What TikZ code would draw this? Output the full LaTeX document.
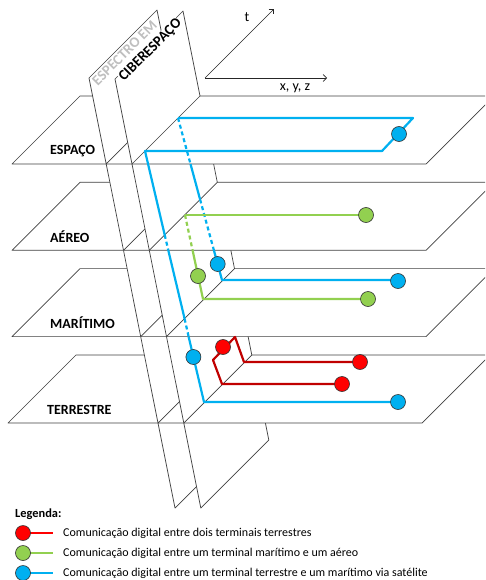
\documentclass[tikz,border=0pt]{standalone}
\usepackage{fontspec}
\setmainfont{Carlito}
\usetikzlibrary{arrows.meta}
\definecolor{cyb}{HTML}{00B0F0}
\definecolor{grn}{HTML}{92D050}
\definecolor{redl}{HTML}{C00000}
\definecolor{redf}{HTML}{FF0000}
\definecolor{edge}{HTML}{404040}
\definecolor{specgray}{HTML}{BFBFBF}

\begin{document}
\begin{tikzpicture}[x=1pt,y=-1pt,
  sheet/.style={draw=edge, line width=0.7pt, fill=white, line join=round},
  link/.style={line width=2.2pt, line join=round},
  hidden/.style={dash pattern=on 4pt off 3pt},
  term/.style={circle, draw=black!80, line width=0.6pt, minimum size=15pt, inner sep=0pt},
  lvl/.style={font=\bfseries\fontsize{14}{14}\selectfont, anchor=west, inner sep=0pt},
  legtext/.style={font=\fontsize{12}{14}\selectfont, anchor=west, inner sep=0pt},
  sheettitle/.style={font=\bfseries\fontsize{14.6}{15}\selectfont, rotate=45, fill=white, inner sep=0.3pt},
  axis/.style={draw=black!85, line width=0.7pt, -{Straight Barb[length=3.5pt,width=7pt]}}
]
\useasboundingbox (0,0) rectangle (485,580);

\begin{scope}
\clip (0,0) rectangle (485,580);
% lowest slab: vertical sheets below TERRESTRE
\draw[sheet] (158,423) -- (226,355) -- (243,440) -- (175,508) -- cycle;
\draw[sheet] (183.8,423) -- (251.8,355) -- (268.8,440) -- (200.8,508) -- cycle;
% TERRESTRE
\draw[sheet] (8,423) -- (422,423) -- (490,355) -- (76,355) -- cycle;
\draw[sheet] (140.7,336.6) -- (208.7,268.6) -- (226,355) -- (158,423) -- cycle;
\draw[sheet] (166.5,336.6) -- (234.5,268.6) -- (251.8,355) -- (183.8,423) -- cycle;
% MARITIMO
\draw[sheet] (12,336.6) -- (426,336.6) -- (494,268.6) -- (80,268.6) -- cycle;
\draw[sheet] (123.5,250.3) -- (191.5,182.3) -- (208.7,268.6) -- (140.7,336.6) -- cycle;
\draw[sheet] (149.3,250.3) -- (217.3,182.3) -- (234.5,268.6) -- (166.5,336.6) -- cycle;
% AEREO
\draw[sheet] (12,250.3) -- (426,250.3) -- (494,182.3) -- (80,182.3) -- cycle;
\draw[sheet] (106.2,164) -- (174.2,96) -- (191.5,182.3) -- (123.5,250.3) -- cycle;
\draw[sheet] (132,164) -- (200,96) -- (217.3,182.3) -- (149.3,250.3) -- cycle;
% ESPACO
\draw[sheet] (12,164) -- (426,164) -- (494,96) -- (80,96) -- cycle;
% upper parts of the spectrum and cyberspace sheets
\draw[sheet] (89,78) -- (157,10) -- (174.2,96) -- (106.2,164) -- cycle;
\node[sheettitle, text=specgray] (spec) at (124.5,53) {ESPECTRO EM};
\draw[sheet] (115,79) -- (183,11) -- (200,96) -- (132,164) -- cycle;
\node[sheettitle] (cyber) at (150.5,50.5) {CIBERESPAÇO};
\end{scope}

% level labels
\node[lvl] (lesp) at (50,151) {ESPAÇO};
\node[lvl] (laer) at (50,237) {AÉREO};
\node[lvl] (lmar) at (50,323) {MARÍTIMO};
\node[lvl] (lter) at (47,410) {TERRESTRE};

% axes
\coordinate (o) at (205,78);
\coordinate (tend) at (274,9);
\coordinate (xend) at (327,78);
\draw[axis] (o) -- (tend);
\draw[axis] (o) -- (xend);
\node[font=\fontsize{14}{14}\selectfont, inner sep=0pt] (tlab) at (247,17) {t};
\node[font=\fontsize{14}{14}\selectfont, inner sep=0pt] (xlab) at (295,88) {x, y, z};

% satellite link (blue)
\coordinate (bA) at (145,151);
\coordinate (bB) at (382,151);
\coordinate (bC) at (413,118);
\coordinate (bD) at (178,118);
\coordinate (bD1) at (190.5,164);
\coordinate (bD2) at (200.1,199.5);
\coordinate (bD3) at (213.9,250.3);
\coordinate (bD4) at (222,280);
\coordinate (bA1) at (164.7,234.9);
\coordinate (bA2) at (168.3,250.3);
\coordinate (bA3) at (184.6,318.7);
\coordinate (bA4) at (188.6,336.6);
\coordinate (bA5) at (204,402);
\draw[link, cyb] (bD) -- (bC) -- (bB) -- (bA) -- (bA1);
\draw[link, cyb, hidden] (bA1) -- (bA2);
\draw[link, cyb] (bA2) -- (bA3);
\draw[link, cyb, hidden] (bA3) -- (bA4);
\draw[link, cyb] (bA4) -- (bA5) -- (398,402);
\draw[link, cyb, hidden] (bD) -- (bD1);
\draw[link, cyb] (bD1) -- (bD2);
\draw[link, cyb, hidden] (bD2) -- (bD3);
\draw[link, cyb] (bD3) -- (bD4) -- (398,280);

% maritime to aerial link (green)
\coordinate (gA) at (185,215);
\coordinate (gA1) at (192.6,250.3);
\coordinate (gA2) at (203,299);
\draw[link, grn] (366,215) -- (gA);
\draw[link, grn, hidden] (gA) -- (gA1);
\draw[link, grn] (gA1) -- (gA2) -- (368,299);

% terrestrial link (red)
\coordinate (r1) at (222,384);
\coordinate (r2) at (213,360);
\coordinate (r3) at (235,337);
\coordinate (r4) at (244,362);
\draw[link, redl] (342,384) -- (r1) -- (r2) -- (r3) -- (r4) -- (360,362);

% terminals
\node[term, fill=cyb] (tsat) at (399,134) {};
\node[term, fill=cyb] (tmarb) at (398,281) {};
\node[term, fill=cyb] (tterb) at (398,402) {};
\node[term, fill=cyb] (cyb1) at (217.7,264) {};
\node[term, fill=cyb] (cyb2) at (193.4,357) {};
\node[term, fill=grn] (taer) at (366,215) {};
\node[term, fill=grn] (tmarg) at (368,299) {};
\node[term, fill=grn] (cyg) at (198,276) {};
\node[term, fill=redf] (cyr) at (223,347) {};
\node[term, fill=redf] (tter1) at (360,362) {};
\node[term, fill=redf] (tter2) at (342,384) {};

% legend
\node[font=\bfseries\fontsize{12.4}{14}\selectfont, anchor=west, inner sep=0pt] (leg) at (15,514) {Legenda:};
\draw[link, redf] (23,533) -- (53,533);
\node[term, fill=redf] (k1) at (23,533) {};
\node[legtext] (d1) at (63,533) {Comunicação digital entre dois terminais terrestres};
\draw[link, grn] (23,553) -- (53,553);
\node[term, fill=grn] (k2) at (23,553) {};
\node[legtext] (d2) at (63,553) {Comunicação digital entre um terminal marítimo e um aéreo};
\draw[link, cyb] (23,573) -- (53,573);
\node[term, fill=cyb] (k3) at (23,573) {};
\node[legtext] (d3) at (63,573) {Comunicação digital entre um terminal terrestre e um marítimo via satélite};
\end{tikzpicture}
\end{document}
